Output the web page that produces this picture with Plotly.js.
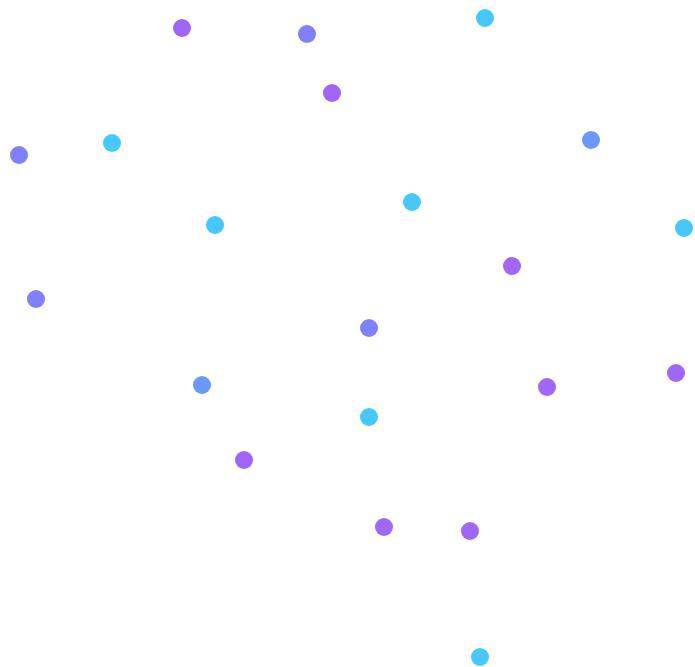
<!DOCTYPE html>
<html>
<head>
<meta charset="utf-8">
<script src="https://cdn.plot.ly/plotly-3.0.1.min.js"></script>
<style>
	html, body {margin: 0; padding: 0; background: #fff;}
	#chart {width: 695px; height: 667px;}
</style>
</head>
<body>
<div id="chart"></div>
<script>
// point positions per colour group (x, y with y counted downward)
const purple_x = [182, 332, 512, 676, 547, 244, 384, 470];
const purple_y = [28, 93, 266, 373, 387, 460, 527, 531];

const violet_x = [307, 19, 36, 369];
const violet_y = [34, 155, 299, 328];

const blue_x = [591, 202];
const blue_y = [140, 385];

const cyan_x = [485, 112, 215, 412, 684, 369, 480];
const cyan_y = [18, 143, 225, 202, 228, 417, 657];

function dots(x, y, color) {
	return {
		type: 'scatter',
		mode: 'markers',
		x: x,
		y: y,
		marker: {size: 18, color: color},
		hoverinfo: 'skip',
		showlegend: false
	}
}

const chart_data = [
	dots(purple_x, purple_y, '#a066f8'),
	dots(violet_x, violet_y, '#8080fd'),
	dots(blue_x, blue_y, '#6a98fc'),
	dots(cyan_x, cyan_y, '#46c8fc')
];

const hidden_axis = {
	showgrid: false,
	zeroline: false,
	showline: false,
	showticklabels: false,
	ticks: ''
};

const chart_layout = {
	width: 695,
	height: 667,
	margin: {l: 0, r: 0, t: 0, b: 0},
	paper_bgcolor: '#fff',
	plot_bgcolor: '#fff',
	xaxis: Object.assign({range: [0, 695]}, hidden_axis),
	yaxis: Object.assign({range: [667, 0]}, hidden_axis)
};

Plotly.newPlot('chart', chart_data, chart_layout, {displayModeBar: false, staticPlot: true});
</script>
</body>
</html>
